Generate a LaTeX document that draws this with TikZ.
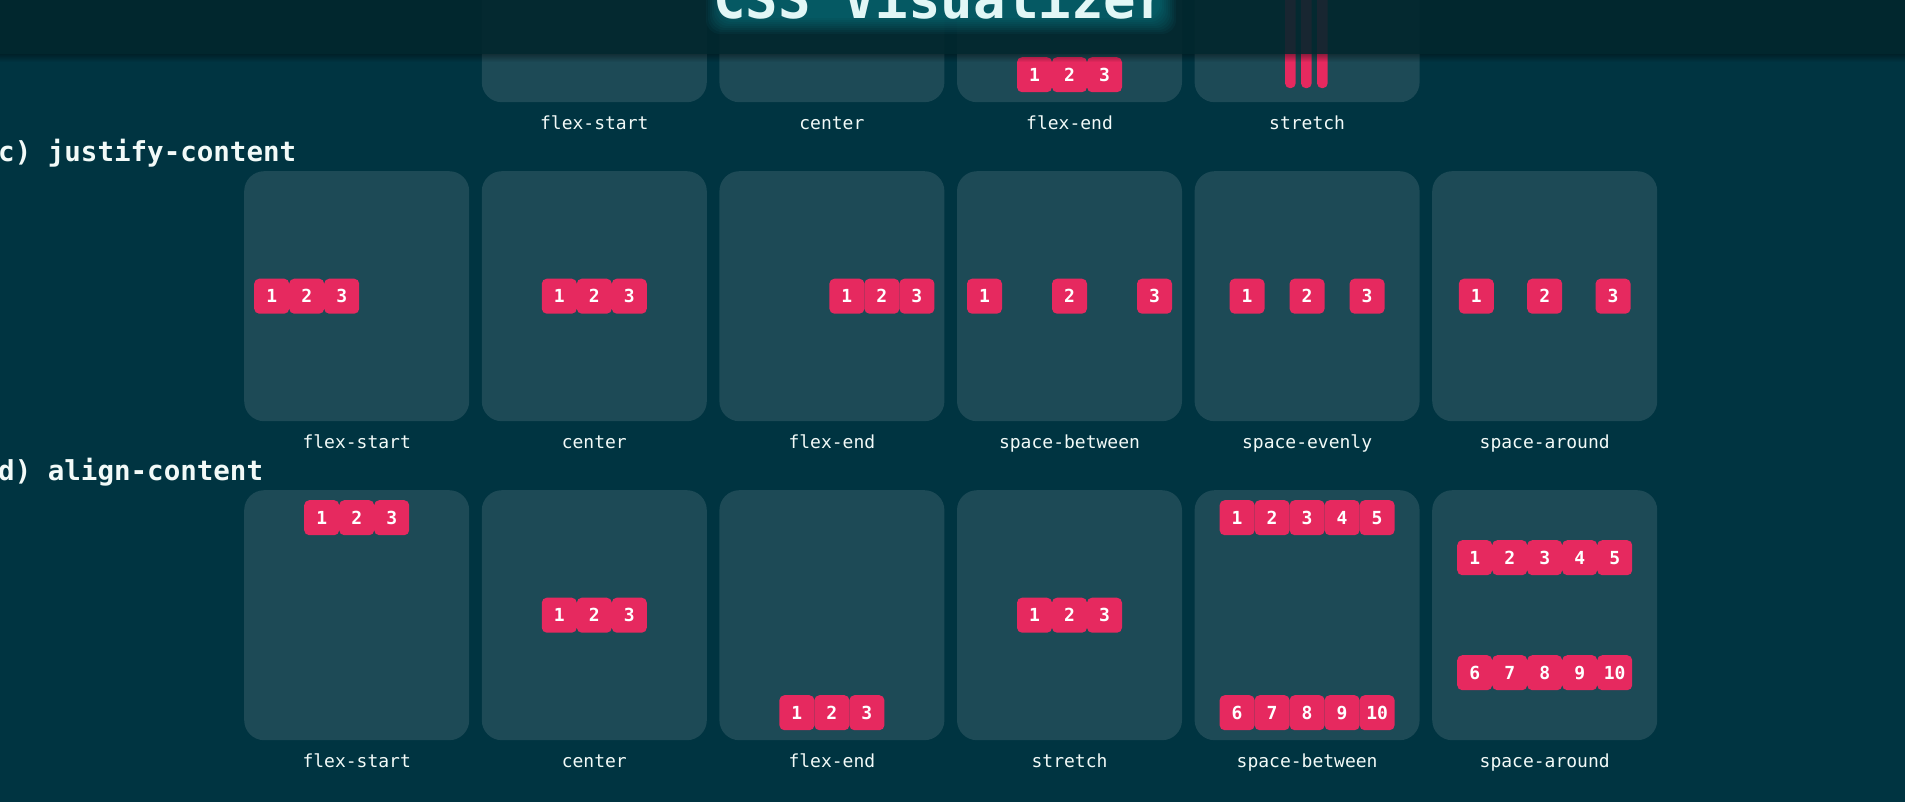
\documentclass[tikz,border=0pt]{standalone}
\usepackage{fontspec}
\setmonofont{DejaVu Sans Mono}
\usetikzlibrary{calc}

\definecolor{pagebg}{HTML}{003441}
\definecolor{cardbg}{HTML}{1D4A56}
\definecolor{itempink}{HTML}{E6295F}
\definecolor{barbg}{HTML}{02262C}
\definecolor{glowcyan}{HTML}{1CC8D8}
\definecolor{titletext}{HTML}{E2F7F6}
\definecolor{labeltext}{HTML}{F2FAF8}

\tikzset{
  card/.style={fill=cardbg, rounded corners=20pt, minimum width=225pt, minimum height=250pt, inner sep=0pt, anchor=north west},
  item/.style={fill=itempink, rounded corners=5pt, minimum width=35pt, minimum height=35pt, inner sep=0pt, anchor=north west,
    text=white, font=\ttfamily\bfseries\fontsize{18}{18}\selectfont},
  caption/.style={text=labeltext, font=\ttfamily\fontsize{18}{18}\selectfont, anchor=base, inner sep=0pt},
  heading/.style={text=labeltext, font=\ttfamily\bfseries\fontsize{27.5}{28}\selectfont, anchor=base west, inner sep=0pt},
  titlefont/.style={font=\ttfamily\bfseries\fontsize{54}{54}\selectfont, anchor=base, inner sep=0pt}
}

\begin{document}
\begin{tikzpicture}[x=1pt, y=-1pt]
    % Page background
    \path[use as bounding box, fill=pagebg] (0,0) rectangle (1905,802);
    \clip (0,0) rectangle (1905,802);

    % b) align-items (row cut by the title bar)
    \foreach \i/\name in {1/flex-start,2/center,3/flex-end,4/stretch}
    {
        \node[card] (al\i) at ({244+237.6*\i},-148) {};
        \node[caption] (all\i) at ($(al\i.south)+(0,27)$) {\name};
    }
    \foreach \n [count=\k from 0] in {1,2,3}
    {
        \node[item] (aiC\n) at ($(al3.north west)+({60+35*\k},205)$) {\n};
        \node[item, minimum width=10.7pt, minimum height=236pt] (aiD\n) at ($(al4.north west)+({90.4+16*\k},0)$) {};
    }

    % c) justify-content
    \node[heading] (hjc) at (-2,162) {c) justify-content};
    \foreach \i/\name in {0/flex-start,1/center,2/flex-end,3/space-between,4/space-evenly,5/space-around}
    {
        \node[card] (jc\i) at ({244+237.6*\i},171) {};
        \node[caption] (jcl\i) at ($(jc\i.south)+(0,27)$) {\name};
    }
    \foreach \n [count=\k from 0] in {1,2,3}
    {
        \node[item] (jsA\n) at ($(jc0.north west)+({10+35*\k},107.5)$) {\n};
        \node[item] (jsB\n) at ($(jc1.north west)+({60+35*\k},107.5)$) {\n};
        \node[item] (jsC\n) at ($(jc2.north west)+({110+35*\k},107.5)$) {\n};
        \node[item] (jsD\n) at ($(jc3.north west)+({10+85*\k},107.5)$) {\n};
        \node[item] (jsE\n) at ($(jc4.north west)+({35+60*\k},107.5)$) {\n};
        \node[item] (jsF\n) at ($(jc5.north west)+({26.67+68.33*\k},107.5)$) {\n};
    }

    % d) align-content
    \node[heading] (hac) at (-2,480) {d) align-content};
    \foreach \i/\name in {0/flex-start,1/center,2/flex-end,3/stretch,4/space-between,5/space-around}
    {
        \node[card] (ac\i) at ({244+237.6*\i},490) {};
        \node[caption] (acl\i) at ($(ac\i.south)+(0,27)$) {\name};
    }
    \foreach \n [count=\k from 0] in {1,2,3}
    {
        \node[item] (caA\n) at ($(ac0.north west)+({60+35*\k},10)$) {\n};
        \node[item] (caB\n) at ($(ac1.north west)+({60+35*\k},107.5)$) {\n};
        \node[item] (caC\n) at ($(ac2.north west)+({60+35*\k},205)$) {\n};
        \node[item] (caD\n) at ($(ac3.north west)+({60+35*\k},107.5)$) {\n};
    }
    \foreach \n [count=\k from 0] in {1,...,5}
    {
        \node[item] (caE\n) at ($(ac4.north west)+({25+35*\k},10)$) {\n};
        \node[item] (caF\n) at ($(ac5.north west)+({25+35*\k},50)$) {\n};
    }
    \foreach \n [count=\k from 0] in {6,...,10}
    {
        \node[item] (caE\n) at ($(ac4.north west)+({25+35*\k},205)$) {\n};
        \node[item] (caF\n) at ($(ac5.north west)+({25+35*\k},165)$) {\n};
    }

    % Title bar with shadow and glowing title
    \fill[barbg, opacity=0.9] (0,0) rectangle (1905,54);
    \foreach \s [evaluate=\s as \op using 0.045*(8-\s)] in {0,...,7}
    {
        \fill[black, opacity=\op] (0,{54+\s}) rectangle (1905,{55+\s});
    }
    \foreach \r in {0,2,...,16}
    {
        \fill[glowcyan, opacity=0.045, rounded corners=14pt] ({722-\r},-30) rectangle ({1160+\r},{18+\r});
    }
    \node[titlefont, text=titletext] (title) at (941,19) {CSS Visualizer};
\end{tikzpicture}
\end{document}
